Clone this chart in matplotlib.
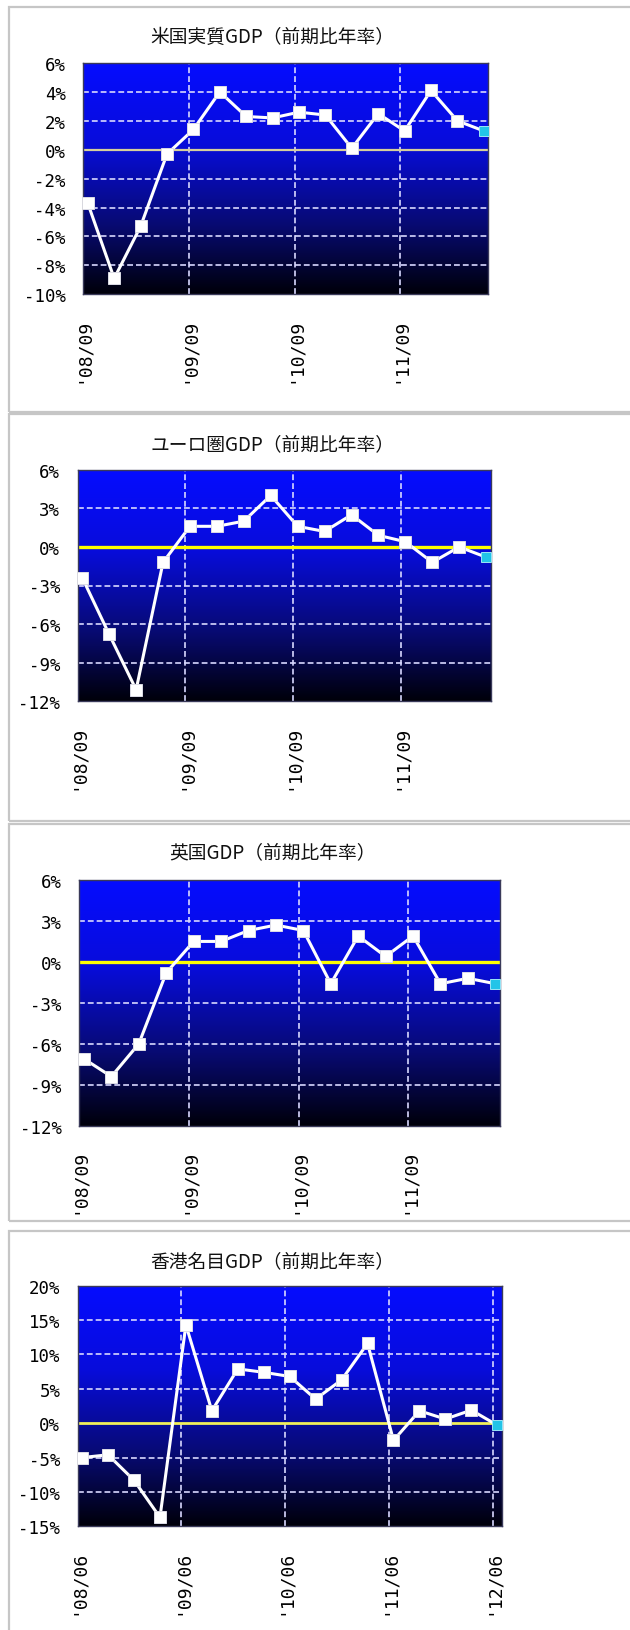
import numpy as np
import matplotlib
matplotlib.use("Agg")
import matplotlib.pyplot as plt
from matplotlib.patches import Rectangle
from matplotlib.colors import LinearSegmentedColormap

plt.rcParams['font.family'] = ['Noto Sans CJK JP', 'DejaVu Sans']

# ---- data (annualised q/q growth, %) ----
us_title = "米国実質GDP（前期比年率）"
us_labels = ["'08/09", "'09/09", "'10/09", "'11/09"]
us_values = [-3.7, -8.9, -5.3, -0.3, 1.4, 4.0, 2.3, 2.2, 2.6, 2.4, 0.1, 2.5, 1.3, 4.1, 2.0, 1.3]

eu_title = "ユーロ圏GDP（前期比年率）"
eu_labels = ["'08/09", "'09/09", "'10/09", "'11/09"]
eu_values = [-2.4, -6.8, -11.1, -1.2, 1.6, 1.6, 2.0, 4.0, 1.6, 1.2, 2.5, 0.9, 0.4, -1.2, 0.0, -0.8]

uk_title = "英国GDP（前期比年率）"
uk_labels = ["'08/09", "'09/09", "'10/09", "'11/09"]
uk_values = [-7.1, -8.4, -6.0, -0.8, 1.5, 1.5, 2.3, 2.7, 2.3, -1.6, 1.9, 0.4, 1.9, -1.6, -1.2, -1.6]

hk_title = "香港名目GDP（前期比年率）"
hk_labels = ["'08/06", "'09/06", "'10/06", "'11/06", "'12/06"]
hk_values = [-5.0, -4.6, -8.3, -13.7, 14.3, 1.8, 7.9, 7.4, 6.8, 3.5, 6.3, 11.6, -2.5, 1.8, 0.6, 1.9, -0.3]

W, H = 630, 1631
fig = plt.figure(figsize=(W / 100, H / 100), dpi=100)
fig.patch.set_facecolor('white')


def fx(px):
    return px / W


def fy(py):
    return 1 - py / H


bg_cmap = LinearSegmentedColormap.from_list(
    "bg", [(0.0, (0.02, 0.05, 1.0)),
           (0.35, (0.03, 0.05, 0.86)),
           (0.70, (0.03, 0.04, 0.45)),
           (1.0, (0.0, 0.0, 0.04))])

# panel definitions: frame box, plot box (pixels), title position, y-range, zero-line style
panels = [
    dict(title=us_title, labels=us_labels, values=us_values,
         frame=(9, 8, 640, 413), box=(83.3, 64, 488.3, 295.3), ty=37,
         ylim=(-10, 6), ystep=2, zc='#d6cf9c', zlw=1.6),
    dict(title=eu_title, labels=eu_labels, values=eu_values,
         frame=(9, 415, 640, 822), box=(77.7, 470.7, 490.7, 702.3), ty=445,
         ylim=(-12, 6), ystep=3, zc='#ffff00', zlw=2.4),
    dict(title=uk_title, labels=uk_labels, values=uk_values,
         frame=(9, 825, 640, 1222), box=(79.3, 881, 500, 1126.7), ty=853,
         ylim=(-12, 6), ystep=3, zc='#ffff00', zlw=2.4),
    dict(title=hk_title, labels=hk_labels, values=hk_values,
         frame=(9, 1232, 640, 1645), box=(77.7, 1286.7, 501.7, 1527.3), ty=1262,
         ylim=(-15, 20), ystep=5, zc='#f2ef5a', zlw=2.0),
]

off = 0.17
for p in panels:
    # panel frame (outline only, behind the plot)
    x0, y0, x1, y1 = p['frame']
    fig.patches.append(Rectangle((fx(x0), fy(y1)), fx(x1 - x0), (y1 - y0) / H,
                                 transform=fig.transFigure, facecolor='none',
                                 edgecolor='#c6c6c6', lw=1.6, zorder=-5))
    bx0, by0, bx1, by1 = p['box']
    ax = fig.add_axes([fx(bx0), fy(by1), fx(bx1 - bx0), (by1 - by0) / H])
    ax.set_zorder(2)
    vals = np.array(p['values'])
    n = len(vals)
    x = np.arange(n)
    ymin, ymax = p['ylim']

    # vertical gradient background
    grad = np.linspace(0, 1, 256).reshape(-1, 1)
    ax.imshow(grad, cmap=bg_cmap, aspect='auto', origin='upper',
              extent=(-off, n - 1 + off, ymin, ymax), zorder=0)
    ax.set_xlim(-off, n - 1 + off)
    ax.set_ylim(ymin, ymax)

    # grid lines
    yt = np.arange(ymin, ymax + 0.001, p['ystep'])
    for v in yt:
        if v in (ymin, ymax, 0):
            continue
        ax.axhline(v, color='#d8d8ff', lw=1.2, ls=(0, (3.5, 1.8)), zorder=1)
    xt = np.arange(0, n, 4) - off
    for v in xt[1:]:
        ax.axvline(v, color='#d8d8ff', lw=1.2, ls=(0, (3.5, 1.8)), zorder=1)
    ax.axhline(0, color=p['zc'], lw=p['zlw'], zorder=2)

    # series
    ax.plot(x, vals, color='white', lw=2.2, zorder=3)
    ax.plot(x[:-1], vals[:-1], ls='none', marker='s', ms=8.6,
            mfc='white', mec='#dcdce6', mew=0.7, zorder=4)
    ax.plot(x[-1:], vals[-1:], ls='none', marker='s', ms=7.4,
            mfc='#22c4e8', mec='#9ae6f6', mew=0.7, zorder=4)

    ax.set_yticks(yt)
    ax.set_yticklabels([f"{int(v)}%" for v in yt], fontsize=12.5,
                       family='DejaVu Sans Mono', color='#000000')
    ax.set_xticks(xt)
    ax.set_xticklabels(p['labels'], rotation=90, fontsize=13,
                       family='DejaVu Sans Mono', color='#000000', va='top')
    ax.tick_params(axis='y', length=0, pad=12.5)
    ax.tick_params(axis='x', length=0, pad=16)
    for s in ax.spines.values():
        s.set_color('#3a3a5a')
        s.set_linewidth(1.0)

    fig.text(fx(272), fy(p['ty']), p['title'], ha='center', va='center',
             fontsize=13.5, color='#111111')

fig.savefig('out.png', dpi=100)
